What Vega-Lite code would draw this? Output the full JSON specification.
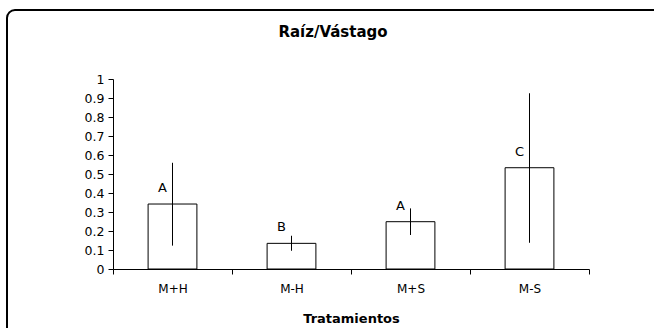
{
  "$schema": "https://vega.github.io/schema/vega-lite/v6.json",
  "usermeta": {"embedOptions": {"actions": false}},
  "width": 700,
  "height": 330,
  "autosize": "none",
  "padding": {"left": 7, "top": 10, "right": -53, "bottom": -12},
  "background": "white",
  "title": {
    "text": "Raíz/Vástago",
    "font": "DejaVu Sans",
    "fontSize": 15,
    "fontWeight": "bold",
    "color": "black",
    "anchor": "middle",
    "baseline": "middle",
    "offset": -37,
    "dx": -24
  },
  "data": {
    "values": [
      {"trat": "M+H", "valor": 0.342, "lo": 0.123, "hi": 0.559, "letra": "A"},
      {"trat": "M-H", "valor": 0.135, "lo": 0.096, "hi": 0.175, "letra": "B"},
      {"trat": "M+S", "valor": 0.249, "lo": 0.179, "hi": 0.319, "letra": "A"},
      {"trat": "M-S", "valor": 0.533, "lo": 0.138, "hi": 0.925, "letra": "C"}
    ]
  },
  "encoding": {
    "x": {
      "field": "trat",
      "type": "nominal",
      "sort": null,
      "scale": {"range": [106, 582], "paddingInner": 0, "paddingOuter": 0},
      "axis": {
        "title": "Tratamientos",
        "labelAngle": 0,
        "offset": -71,
        "tickBand": "extent",
        "tickSize": 5,
        "labelPadding": 9,
        "titlePadding": 18,
        "titleFontSize": 13,
        "titleFontWeight": "bold",
        "labelFontSize": 12
      }
    }
  },
  "layer": [
    {
      "mark": {"type": "bar", "fill": "white", "stroke": "black", "strokeWidth": 1, "width": {"band": 0.41}},
      "encoding": {
        "y": {
          "field": "valor",
          "type": "quantitative",
          "scale": {"domain": [0, 1], "range": [259, 69], "nice": false, "zero": true},
          "axis": {
            "title": null,
            "offset": -106,
            "values": [0, 0.1, 0.2, 0.3, 0.4, 0.5, 0.6, 0.7, 0.8, 0.9, 1],
            "tickCount": 20,
            "labelOverlap": false,
            "format": "~g",
            "tickSize": 5,
            "labelPadding": 4,
            "labelFontSize": 12.5,
            "grid": false
          }
        }
      }
    },
    {
      "mark": {"type": "rule", "color": "black", "strokeWidth": 1},
      "encoding": {
        "y": {"field": "lo", "type": "quantitative"},
        "y2": {"field": "hi"}
      }
    },
    {
      "mark": {"type": "text", "font": "DejaVu Sans", "fontSize": 13, "color": "black", "baseline": "middle", "dx": -10, "dy": -16},
      "encoding": {
        "y": {"field": "valor", "type": "quantitative"},
        "text": {"field": "letra"}
      }
    }
  ],
  "config": {
    "view": {"stroke": "black", "strokeWidth": 2, "cornerRadius": 8},
    "font": "DejaVu Sans",
    "axis": {
      "domainColor": "black",
      "tickColor": "black",
      "labelColor": "black",
      "titleColor": "black",
      "labelFont": "DejaVu Sans",
      "titleFont": "DejaVu Sans",
      "grid": false
    }
  }
}
